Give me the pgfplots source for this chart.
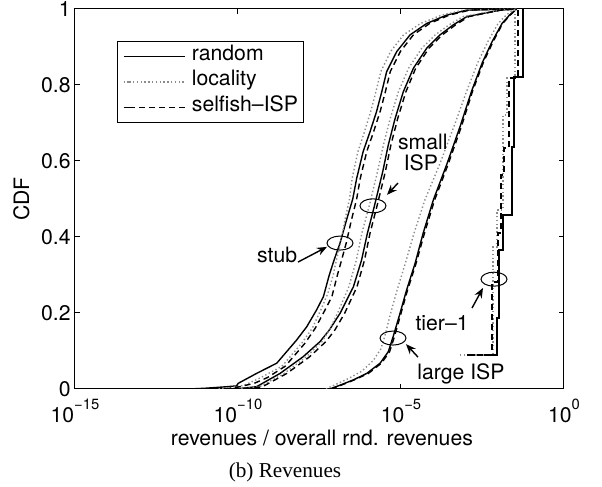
\documentclass[border=0pt]{standalone}
\usepackage{fontspec}
\setmainfont{TeX Gyre Heros}
\newfontfamily\capfont{Liberation Serif}
\usepackage{pgfplots}
\usepackage{pgfplotstable}
\pgfplotsset{compat=1.18}
\usetikzlibrary{arrows.meta}

% x = log10(revenue share), y = CDF
\pgfplotstableread{
x y
-11.5 0
-11.0 0.002
-10.5 0.005
-10.05 0.008
-9.99 0.015
-9.43 0.041
-8.81 0.068
-8.20 0.129
-7.89 0.164
-7.59 0.208
-7.38 0.243
-7.20 0.30
-7.05 0.34
-6.87 0.384
-6.67 0.445
-6.48 0.50
-6.36 0.554
-6.16 0.625
-5.95 0.677
-5.75 0.730
-5.59 0.782
-5.44 0.835
-5.13 0.888
-4.72 0.932
-4.21 0.962
-3.60 0.984
-2.98 0.997
-1.6 1
}\stubrnd
\pgfplotstableread{
x y
-10.6 0
-10.2 0.004
-9.8 0.01
-9.3 0.03
-8.65 0.06
-8.05 0.12
-7.72 0.16
-7.45 0.21
-7.25 0.25
-7.08 0.30
-6.98 0.34
-6.85 0.384
-6.72 0.445
-6.58 0.50
-6.50 0.554
-6.32 0.625
-6.12 0.677
-5.93 0.730
-5.77 0.782
-5.62 0.835
-5.32 0.888
-4.92 0.932
-4.40 0.962
-3.75 0.984
-3.1 0.997
-1.6 1
}\stubloc
\pgfplotstableread{
x y
-10.4 0
-10.0 0.005
-9.5 0.015
-9.1 0.03
-8.55 0.06
-7.95 0.12
-7.63 0.16
-7.33 0.208
-7.12 0.243
-6.95 0.30
-6.82 0.34
-6.68 0.384
-6.52 0.445
-6.36 0.50
-6.25 0.554
-6.05 0.625
-5.84 0.677
-5.64 0.730
-5.48 0.782
-5.33 0.835
-5.02 0.888
-4.62 0.932
-4.12 0.962
-3.52 0.984
-2.9 0.997
-1.6 1
}\stubsel
\pgfplotstableread{
x y
-10.1 0
-9.43 0.006
-8.71 0.041
-8.0 0.085
-7.48 0.125
-7.2 0.155
-6.87 0.199
-6.46 0.269
-6.21 0.339
-6.03 0.41
-5.82 0.48
-5.56 0.572
-5.39 0.642
-5.18 0.712
-4.93 0.782
-4.62 0.844
-4.21 0.897
-3.80 0.932
-3.40 0.958
-2.98 0.98
-1.96 0.997
-1.45 1
}\smallrnd
\pgfplotstableread{
x y
-9.9 0
-9.3 0.008
-8.6 0.04
-7.9 0.085
-7.42 0.125
-7.2 0.155
-6.95 0.199
-6.6 0.269
-6.37 0.339
-6.2 0.41
-5.98 0.48
-5.72 0.572
-5.54 0.642
-5.33 0.712
-5.08 0.782
-4.77 0.844
-4.36 0.897
-3.95 0.932
-3.53 0.958
-3.1 0.98
-2.0 0.997
-1.45 1
}\smallloc
\pgfplotstableread{
x y
-9.8 0
-9.25 0.006
-8.5 0.041
-7.8 0.085
-7.3 0.125
-7.03 0.155
-6.73 0.199
-6.35 0.269
-6.12 0.339
-5.95 0.41
-5.74 0.48
-5.48 0.572
-5.31 0.642
-5.10 0.712
-4.85 0.782
-4.55 0.844
-4.14 0.897
-3.73 0.932
-3.33 0.958
-2.92 0.98
-1.94 0.997
-1.45 1
}\smallsel
\pgfplotstableread{
x y
-7.18 0
-6.87 0.01
-6.46 0.024
-6.05 0.041
-5.64 0.068
-5.39 0.098
-5.24 0.138
-5.03 0.199
-4.83 0.26
-4.57 0.33
-4.32 0.41
-4.01 0.497
-3.60 0.59
-3.19 0.69
-2.83 0.785
-2.50 0.86
-2.20 0.915
-1.90 0.962
-1.66 0.985
-1.45 1
}\largernd
\pgfplotstableread{
x y
-7.3 0
-7.0 0.012
-6.6 0.028
-6.2 0.047
-5.85 0.075
-5.62 0.105
-5.5 0.138
-5.32 0.199
-5.12 0.26
-4.87 0.33
-4.6 0.41
-4.27 0.497
-3.82 0.59
-3.38 0.69
-2.98 0.785
-2.64 0.86
-2.33 0.915
-2.02 0.962
-1.76 0.985
-1.5 1
}\largeloc
\pgfplotstableread{
x y
-7.15 0
-6.84 0.01
-6.43 0.024
-6.0 0.041
-5.6 0.068
-5.35 0.098
-5.2 0.138
-5.0 0.199
-4.8 0.26
-4.54 0.33
-4.28 0.41
-3.97 0.497
-3.56 0.59
-3.15 0.69
-2.80 0.785
-2.47 0.86
-2.17 0.915
-1.88 0.962
-1.64 0.985
-1.45 1
}\largesel
\pgfplotstableread{
x y
-2.98 0.089
-2.055 0.089
-2.055 0.187
-1.994 0.187
-1.994 0.366
-1.871 0.366
-1.871 0.458
-1.595 0.458
-1.595 0.637
-1.534 0.637
-1.534 0.821
-1.258 0.821
-1.258 1
}\tierrnd
\pgfplotstableread{
x y
-3.19 0.089
-2.178 0.089
-2.178 0.374
-2.055 0.374
-2.055 0.471
-1.871 0.471
-1.871 0.721
-1.748 0.721
-1.748 0.818
-1.503 0.818
-1.503 1
}\tierloc
\pgfplotstableread{
x y
-2.975 0.089
-2.209 0.089
-2.209 0.282
-2.025 0.282
-2.025 0.411
-1.933 0.411
-1.933 0.563
-1.840 0.563
-1.840 0.634
-1.687 0.634
-1.687 0.818
-1.411 0.818
-1.411 1
}\tiersel

\newcommand\tpow[1]{10\raisebox{6.3pt}{\fontsize{7.4}{8}\selectfont #1}}

\begin{document}
\fontsize{10.6}{12.7}\selectfont
\begin{tikzpicture}
\useasboundingbox (-37.5pt,-49pt) rectangle (263.5pt,194.5pt);
\begin{axis}[
  name=ax,
  at={(0,0)}, anchor=south west,
  scale only axis, width=244.5pt, height=190pt,
  xmin=-15, xmax=0, ymin=0, ymax=1,
  xtick={-15,-10,-5,0},
  xticklabels={\tpow{−15},\tpow{−10},\tpow{−5},\tpow{0}},
  ytick={0,0.2,0.4,0.6,0.8,1},
  /pgf/number format/assume math mode=true,
  tick align=inside, major tick length=2.5pt,
  xtick pos=both, ytick pos=both,
  axis line style={line width=0.5pt},
  tick style={line width=0.5pt, black},
  yticklabel style={inner sep=0pt, xshift=-2pt},
  xticklabel style={inner sep=0pt, yshift=-5pt},
  xlabel={revenues / overall rnd. revenues},
  ylabel={CDF},
  xlabel style={at={(axis description cs:0.505,-0.108)}, anchor=north, inner sep=0pt},
  ylabel style={at={(axis description cs:-0.092,0.5)}, anchor=south, inner sep=0pt},
  legend style={at={(axis description cs:0.0859,0.9158)}, anchor=north west,
    draw=black, line width=0.5pt, inner xsep=2.7pt, inner ysep=1.2pt,
    row sep=0pt, column sep=3pt,
    nodes={inner sep=0pt, text height=8.3pt, text depth=4.45pt}},
  legend cell align=left,
  legend image code/.code={\path (0pt,0pt) -- (2.8pt,0pt); \draw[#1] (2.8pt,0pt) -- (30.8pt,0pt);},
  solidl/.style={black, line width=0.7pt},
  dotl/.style={black!45, line width=0.7pt, dash pattern=on 0.7pt off 1.2pt},
  dashl/.style={black, line width=0.7pt, dash pattern=on 3pt off 2pt},
]
\addplot[solidl] table {\stubrnd};
\addlegendentry{random}
\addplot[dotl] table {\stubloc};
\addlegendentry{locality}
\addplot[dashl] table {\stubsel};
\addlegendentry{selfish–ISP}
\addplot[solidl, forget plot] table {\smallrnd};
\addplot[dotl, forget plot] table {\smallloc};
\addplot[dashl, forget plot] table {\smallsel};
\addplot[solidl, forget plot] table {\largernd};
\addplot[dotl, forget plot] table {\largeloc};
\addplot[dashl, forget plot] table {\largesel};
\addplot[solidl, forget plot] table {\tierrnd};
\addplot[dotl, forget plot] table {\tierloc};
\addplot[dashl, forget plot] table {\tiersel};

% annotations
\draw[line width=0.5pt] (axis cs:-6.871,0.384) ellipse [x radius=6.5pt, y radius=3.5pt];
\draw[line width=0.5pt] (axis cs:-5.859,0.482) ellipse [x radius=6.5pt, y radius=3.5pt];
\draw[line width=0.5pt] (axis cs:-5.245,0.134) ellipse [x radius=6.5pt, y radius=3.5pt];
\draw[line width=0.5pt] (axis cs:-2.147,0.289) ellipse [x radius=6.5pt, y radius=3.5pt];
\draw[line width=0.7pt, -{Stealth[length=5pt,width=4pt]}] (axis cs:-8.16,0.334) -- (axis cs:-7.27,0.374);
\draw[line width=0.7pt, -{Stealth[length=5pt,width=4pt]}] (axis cs:-5.092,0.542) -- (axis cs:-5.429,0.511);
\draw[line width=0.7pt, -{Stealth[length=5pt,width=4pt]}] (axis cs:-4.479,0.084) -- (axis cs:-4.847,0.118);
\draw[line width=0.7pt, -{Stealth[length=5pt,width=4pt]}] (axis cs:-2.822,0.213) -- (axis cs:-2.485,0.266);
\node[anchor=base, inner sep=0pt] at (axis cs:-8.80,0.332) {stub};
\node[anchor=base, inner sep=0pt] at (axis cs:-4.33,0.629) {small};
\node[anchor=base, inner sep=0pt] at (axis cs:-4.39,0.576) {ISP};
\node[anchor=base, inner sep=0pt] at (axis cs:-3.74,0.155) {tier–1};
\node[anchor=base, inner sep=0pt] at (axis cs:-3.16,0.024) {large ISP};
\end{axis}
\node[font=\capfont\fontsize{10.6}{12.7}\selectfont, inner sep=0pt] at ([xshift=105pt,yshift=-41.5pt]ax.south west) {(b) Revenues};
\end{tikzpicture}
\end{document}
